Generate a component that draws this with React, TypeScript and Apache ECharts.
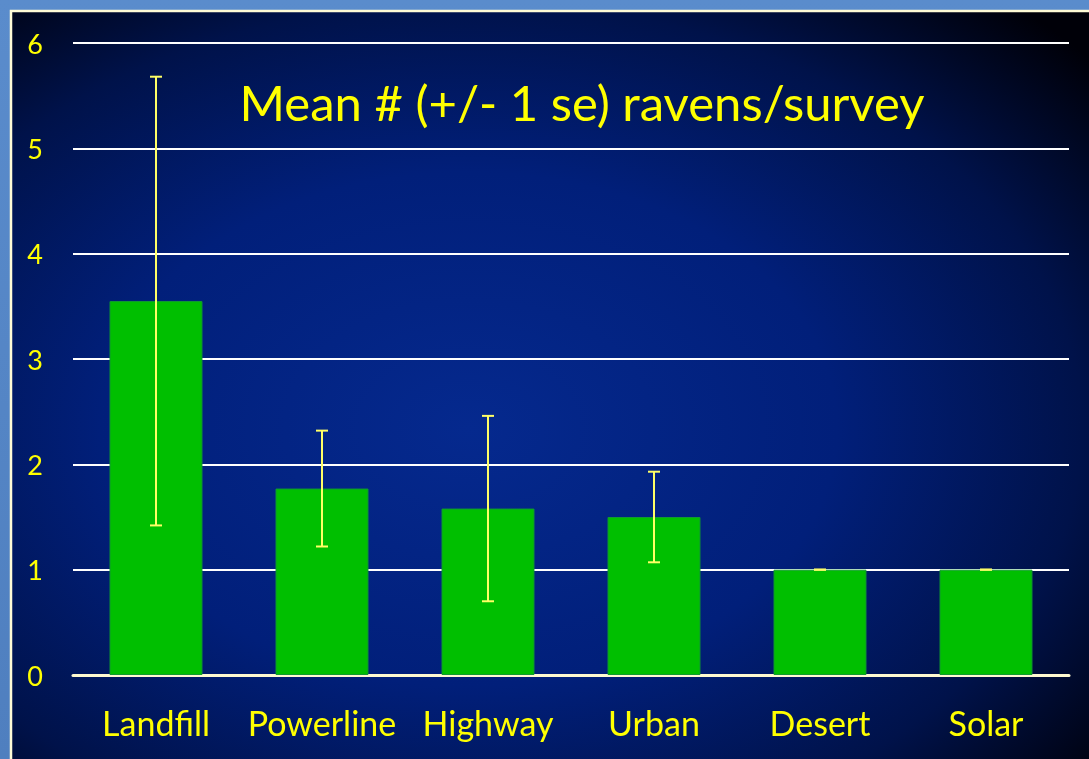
import React, { useEffect, useRef } from "react";
import * as echarts from "echarts";

const categories = ["Landfill", "Powerline", "Highway", "Urban", "Desert", "Solar"];
const means = [3.55, 1.77, 1.58, 1.5, 1.0, 1.0];
const stdErr = [2.13, 0.55, 0.88, 0.43, 0.0, 0.0];
const titleText = "Mean # (+/- 1 se) ravens/survey";

export default function App() {
  const ref = useRef<HTMLDivElement>(null);
  useEffect(() => {
    if (!ref.current) return;
    const chart = echarts.init(ref.current, undefined, { renderer: "svg" });
    const errData = categories.map((c, i) => [i, means[i] - stdErr[i], means[i] + stdErr[i]]);
    const font = "Lato, 'Open Sans', sans-serif";
    chart.setOption({
      animation: false,
      graphic: [
        { type: "rect", z: -10, silent: true, shape: { x: 0, y: 0, width: 1089, height: 759 },
          style: { fill: new echarts.graphic.LinearGradient(0, 0, 0, 1, [
            { offset: 0, color: "#5a8ccc" }, { offset: 1, color: "#4f7fbf" }]) } },
        { type: "rect", z: -9, silent: true, shape: { x: 11, y: 11, width: 1090, height: 760 },
          style: { stroke: "#fffbd6", lineWidth: 2.5,
            fill: new echarts.graphic.RadialGradient(0.42, 0.55, 0.75, [
              { offset: 0, color: "#05298e" },
              { offset: 0.45, color: "#011f7a" },
              { offset: 0.75, color: "#00124a" },
              { offset: 1, color: "#000008" }]) } },
        { type: "text", z: 10, silent: true, x: 582, y: 102,
          style: { text: titleText, align: "center", verticalAlign: "middle",
            fill: "#ffff00", fontSize: 49, fontFamily: font } },
      ],
      grid: { left: 73, right: 20, top: 43, bottom: 84 },
      xAxis: {
        type: "category", data: categories,
        axisLine: { show: true, lineStyle: { color: "#fffad0", width: 3 } },
        axisTick: { show: false },
        axisLabel: { color: "#ffff00", fontSize: 34, margin: 30, fontFamily: font, interval: 0 },
      },
      yAxis: {
        type: "value", min: 0, max: 6, interval: 1,
        axisLine: { show: false }, axisTick: { show: false },
        axisLabel: { color: "#ffff00", fontSize: 27, margin: 30, fontFamily: font },
        splitLine: { lineStyle: { color: "#ffffff", width: 2 } },
      },
      series: [
        { type: "bar", data: means, barWidth: "56%",
          itemStyle: { color: "#00bf00", borderColor: "#109a30", borderWidth: 1 } },
        { type: "custom", data: errData, z: 5,
          renderItem: (params: any, api: any) => {
            const x = api.value(0);
            const lo = api.coord([x, api.value(1)]);
            const hi = api.coord([x, api.value(2)]);
            const hw = 6;
            const st = { stroke: "#ffff66", lineWidth: 2 };
            return {
              type: "group",
              children: [
                { type: "line", shape: { x1: lo[0], y1: lo[1], x2: hi[0], y2: hi[1] }, style: st },
                { type: "line", shape: { x1: hi[0] - hw, y1: hi[1], x2: hi[0] + hw, y2: hi[1] }, style: st },
                { type: "line", shape: { x1: lo[0] - hw, y1: lo[1], x2: lo[0] + hw, y2: lo[1] }, style: st },
              ],
            };
          } },
      ],
    });
    return () => chart.dispose();
  }, []);
  return <div ref={ref} style={{ position: "fixed", left: 0, top: 0, width: 1089, height: 759 }} />;
}
